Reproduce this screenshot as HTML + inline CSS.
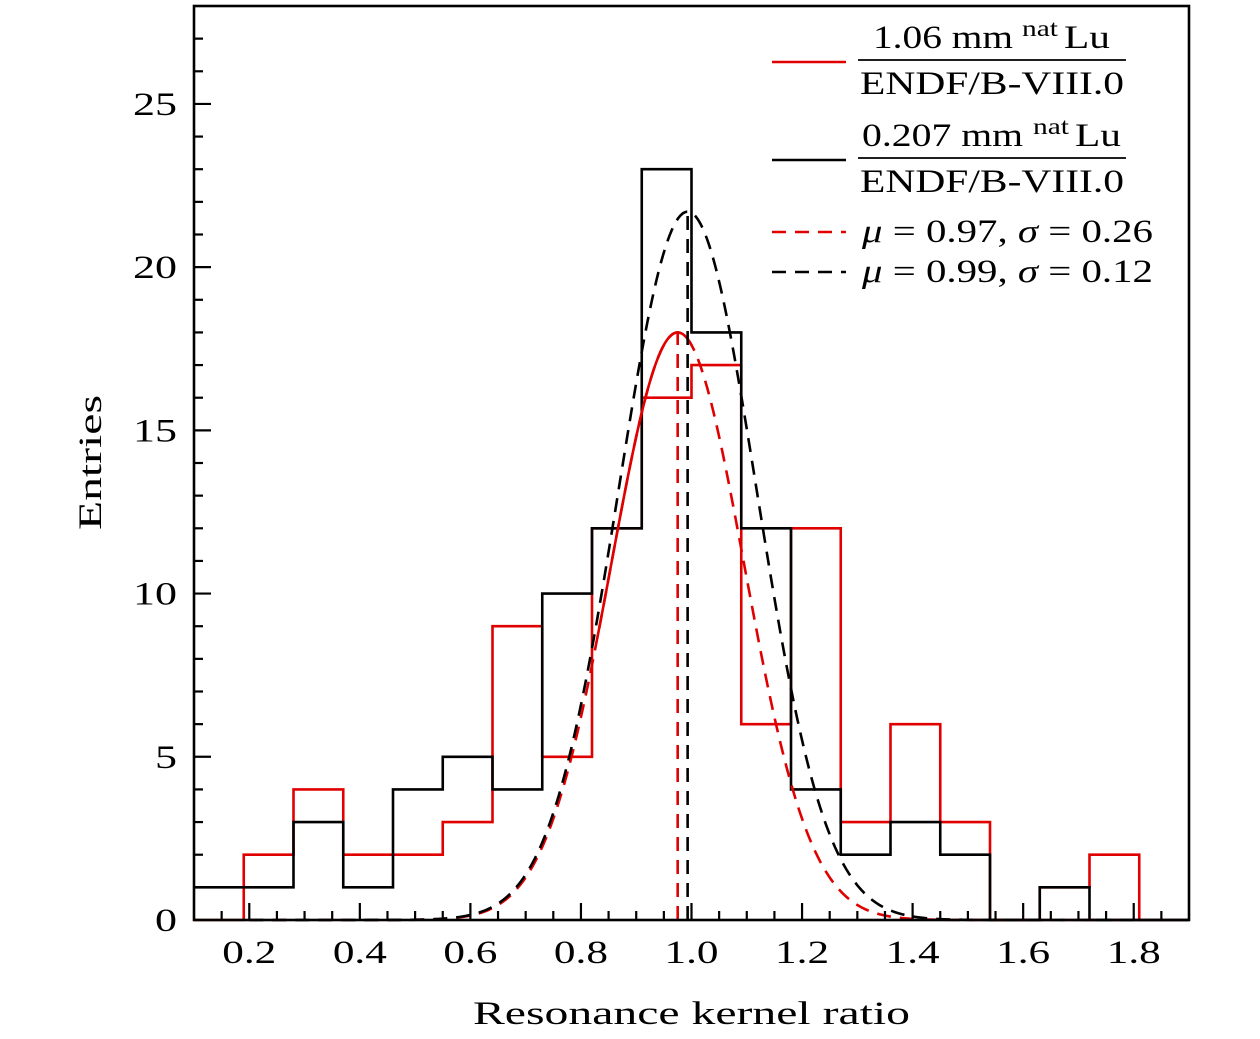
<!DOCTYPE html>
<html><head><meta charset="utf-8"><style>
body{margin:0;background:#fff;}
svg{display:block;font-family:"Liberation Serif",serif;}
</style></head><body>
<svg id="chart" width="1260" height="1039" viewBox="0 0 1260 1039"></svg>
<script>
const binStart = 0.1;
const binWidth = 0.09;
const blackCounts = [1,1,3,1,4,5,4,10,12,23,18,12,4,2,3,2,0,1,0,0];
const redCounts = [0,2,4,2,2,3,9,5,12,16,17,6,12,3,6,3,0,1,2,0];
const redFit = {mu:0.975, sigma:0.12, amp:18.0};
const blackFit = {mu:0.993, sigma:0.125, amp:21.7};
const xTicks = [0.2,0.4,0.6,0.8,1.0,1.2,1.4,1.6,1.8];
const xTickLabels = ["0.2","0.4","0.6","0.8","1.0","1.2","1.4","1.6","1.8"];
const yTicks = [0,5,10,15,20,25];

const L=194,R=1189,T=6,B=920,XMIN=0.1,XMAX=1.9,YMAX=28;
const sx=v=>L+(v-XMIN)/(XMAX-XMIN)*(R-L);
const sy=v=>B-v/YMAX*(B-T);
const svg=document.getElementById('chart');
const NS='http://www.w3.org/2000/svg';
function mk(tag,attrs,parent){const e=document.createElementNS(NS,tag);for(const k in attrs)e.setAttribute(k,attrs[k]);(parent||svg).appendChild(e);return e;}

function hist(counts,color,name){
  let d='M'+sx(binStart)+','+sy(counts[0]);
  counts.forEach((c,i)=>{const x0=sx(binStart+i*binWidth),x1=sx(binStart+(i+1)*binWidth);
    d+=' L'+x0+','+sy(c)+' L'+x1+','+sy(c);});
  const p=mk('path',{d:d,fill:'none',stroke:color,'stroke-width':2.6});
  
  
}
function gauss(f,color,name,dash,a,b){
  let d='';for(let i=0;i<=400;i++){const x=a+(b-a)*i/400;const y=f.amp*Math.exp(-Math.pow(x-f.mu,2)/(2*f.sigma*f.sigma));d+=(i?' L':'M')+sx(x).toFixed(2)+','+sy(y).toFixed(2);}
  const p=mk('path',{d:d,fill:'none',stroke:color,'stroke-width':2.6});
  if(dash)p.setAttribute('stroke-dasharray','14 9');
  
  
}
hist(redCounts,'#e00000','red-histogram');
hist(blackCounts,'#000','black-histogram');
gauss(redFit,'#e00000','red-gaussian-fit',true,0.2,1.8);
gauss(redFit,'#e00000','red-gaussian-peak',false,0.83,1.0);
gauss(blackFit,'#000','black-gaussian-fit',true,0.2,1.8);
[[redFit,'#e00000','red-mean-line'],[blackFit,'#000','black-mean-line']].forEach(([f,c,n])=>{
  const l=mk('line',{x1:sx(f.mu),x2:sx(f.mu),y1:B,y2:sy(f.amp),stroke:c,'stroke-width':2.6,'stroke-dasharray':'14 9'});
  
  
});
const fr=mk('rect',{x:L,y:T,width:R-L,height:B-T,fill:'none',stroke:'#000','stroke-width':2.6});


for(let v=0.15;v<=1.86;v+=0.05){const major=Math.abs(v*5-Math.round(v*5))<1e-6;
  mk('line',{x1:sx(v),x2:sx(v),y1:B,y2:B-(major?17:9),stroke:'#000','stroke-width':2.2});}
xTicks.forEach((v,i)=>{const t=mk('text',{x:sx(v)-27,y:963,'font-size':33,textLength:54,lengthAdjust:'spacingAndGlyphs'});t.textContent=xTickLabels[i];
  
  });
for(let v=1;v<YMAX;v++){const major=v%5===0;
  mk('line',{x1:L,x2:L+(major?17:9),y1:sy(v),y2:sy(v),stroke:'#000','stroke-width':2.2});}
yTicks.forEach(v=>{const s=String(v);const w=s.length*22;const t=mk('text',{x:177-w,y:sy(v)+11,'font-size':33,textLength:w,lengthAdjust:'spacingAndGlyphs'});t.textContent=s;
  
  });
</script>
<svg style="position:absolute;left:0;top:0" width="1260" height="1039">
<g font-family="Liberation Serif, serif" font-size="33">
<text x="473" y="1024" textLength="437" lengthAdjust="spacingAndGlyphs">Resonance kernel ratio</text>
<text transform="translate(101,530) rotate(-90)" textLength="135" lengthAdjust="spacingAndGlyphs">Entries</text>
<g>
<line x1="772" x2="846" y1="62" y2="62" stroke="#e00000" stroke-width="2.6"/>
<text x="873" y="48" textLength="140" lengthAdjust="spacingAndGlyphs">1.06 mm</text>
<text x="1022" y="36" font-size="23" textLength="36" lengthAdjust="spacingAndGlyphs">nat</text>
<text x="1064" y="48" textLength="46" lengthAdjust="spacingAndGlyphs">Lu</text>
<line x1="858" x2="1126" y1="60" y2="60" stroke="#000" stroke-width="1.8"/>
<text x="860" y="94" textLength="264" lengthAdjust="spacingAndGlyphs">ENDF/B-VIII.0</text>
<line x1="772" x2="846" y1="160" y2="160" stroke="#000" stroke-width="2.6"/>
<text x="862" y="146" textLength="161" lengthAdjust="spacingAndGlyphs">0.207 mm</text>
<text x="1033" y="134" font-size="23" textLength="36" lengthAdjust="spacingAndGlyphs">nat</text>
<text x="1075" y="146" textLength="46" lengthAdjust="spacingAndGlyphs">Lu</text>
<line x1="858" x2="1126" y1="158" y2="158" stroke="#000" stroke-width="1.8"/>
<text x="860" y="192" textLength="264" lengthAdjust="spacingAndGlyphs">ENDF/B-VIII.0</text>
<line x1="772" x2="846" y1="232" y2="232" stroke="#e00000" stroke-width="2.6" stroke-dasharray="14 9"/>
<text x="862" y="242" textLength="291" lengthAdjust="spacingAndGlyphs"><tspan font-style="italic">μ</tspan> = 0.97, <tspan font-style="italic">σ</tspan> = 0.26</text>
<line x1="772" x2="846" y1="272" y2="272" stroke="#000" stroke-width="2.6" stroke-dasharray="14 9"/>
<text x="862" y="282" textLength="291" lengthAdjust="spacingAndGlyphs"><tspan font-style="italic">μ</tspan> = 0.99, <tspan font-style="italic">σ</tspan> = 0.12</text>
</g>
</g>
</svg>
</body></html>
